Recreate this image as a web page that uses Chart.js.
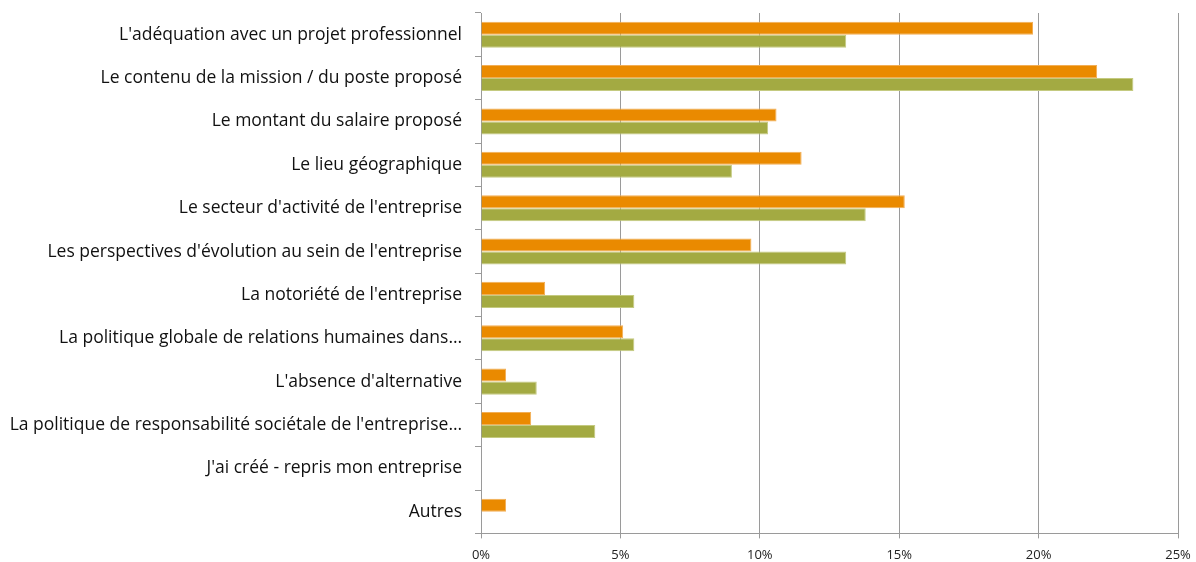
<!DOCTYPE html>
<html>
<head>
<meta charset="utf-8">
<script src="https://cdn.jsdelivr.net/npm/chart.js@4/dist/chart.umd.min.js"></script>
<style>
  html, body { margin: 0; padding: 0; background: #fff; }
  #wrap { width: 1196px; height: 562px; }
</style>
</head>
<body>
<div id="wrap"><canvas id="criteresChart" width="1196" height="562"></canvas></div>
<script>
// critères de choix du poste
const categories = [
    "L'adéquation avec un projet professionnel",
    "Le contenu de la mission / du poste proposé",
    "Le montant du salaire proposé",
    "Le lieu géographique",
    "Le secteur d'activité de l'entreprise",
    "Les perspectives d'évolution au sein de l'entreprise",
    "La notoriété de l'entreprise",
    "La politique globale de relations humaines dans…",
    "L'absence d'alternative",
    "La politique de responsabilité sociétale de l'entreprise…",
    "J'ai créé - repris mon entreprise",
    "Autres"
];
const serieOrange = [19.8, 22.1, 10.6, 11.5, 15.2, 9.7, 2.3, 5.1, 0.9, 1.8, 0, 0.9];
const serieVerte = [13.1, 23.4, 10.3, 9.0, 13.8, 13.1, 5.5, 5.5, 2.0, 4.1, 0, 0];
const xTicks = [0, 5, 10, 15, 20, 25];

document.addEventListener('DOMContentLoaded', function() {
    const ctx = document.getElementById('criteresChart').getContext('2d');
    new Chart(ctx, {
        type: 'bar',
        data: {
            labels: categories,
            datasets: [{
                label: 'Série 1',
                data: serieOrange,
                backgroundColor: '#EA8A00',
                borderColor: '#F2AE55',
                borderWidth: 1,
                categoryPercentage: 0.6,
                barPercentage: 1.0
            }, {
                label: 'Série 2',
                data: serieVerte,
                backgroundColor: '#A3AA42',
                borderColor: '#C4CA80',
                borderWidth: 1,
                categoryPercentage: 0.6,
                barPercentage: 1.0
            }]
        },
        options: {
            indexAxis: 'y',
            responsive: false,
            animation: false,
            layout: { padding: { top: 13, right: 18, left: 0, bottom: -10 } },
            plugins: {
                legend: { display: false },
                tooltip: { enabled: false }
            },
            scales: {
                x: {
                    min: 0,
                    max: 25,
                    afterBuildTicks: function(axis) {
                        axis.ticks = xTicks.map(v => ({ value: v }));
                    },
                    afterFit: function(axis) {
                        axis.paddingRight = 0;
                    },
                    ticks: {
                        callback: v => v + '%',
                        color: '#222',
                        font: { family: 'Open Sans', size: 13 },
                        padding: 9
                    },
                    grid: { color: '#9a9a9a', lineWidth: 1, tickLength: 5 },
                    border: { color: '#9a9a9a' }
                },
                y: {
                    afterFit: function(axis) {
                        axis.width = 481;
                        axis.paddingTop = 0;
                        axis.paddingBottom = 0;
                    },
                    ticks: {
                        color: '#111',
                        font: { family: 'Open Sans', size: 17.5 },
                        padding: 13
                    },
                    grid: { drawOnChartArea: false, color: '#9a9a9a', tickLength: 6 },
                    border: { color: '#9a9a9a' }
                }
            }
        }
    });
});
</script>
</body>
</html>
